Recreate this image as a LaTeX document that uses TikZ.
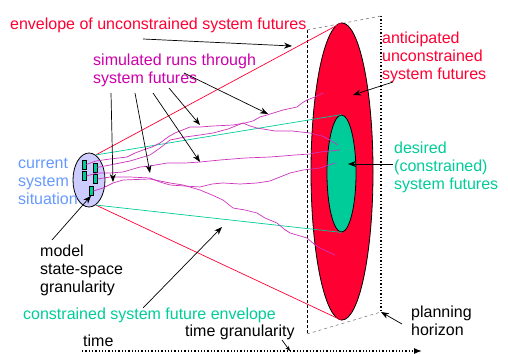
\documentclass[tikz,border=0pt]{standalone}
\usepackage{fontspec}
\setmainfont{Liberation Sans}
\usetikzlibrary{shapes.geometric,arrows.meta}
\usepackage{xcolor}
\definecolor{futurered}{RGB}{255,0,51}
\definecolor{desiredgreen}{RGB}{0,204,153}
\definecolor{runmagenta}{RGB}{204,51,187}
\definecolor{labelmagenta}{RGB}{204,0,170}
\definecolor{situblue}{RGB}{102,153,255}
\definecolor{statelavender}{RGB}{204,204,255}

\begin{document}
\begin{tikzpicture}[
    x=1pt, y=-1pt,
    txt/.style={anchor=base west, inner sep=0pt, align=left,
                font=\fontsize{16}{17.6}\selectfont},
    futureblob/.style={ellipse, inner sep=0pt, draw=black, line width=0.8pt},
    staterect/.style={rectangle, inner sep=0pt, draw=black, fill=desiredgreen,
                      minimum width=4pt, minimum height=9pt, line width=0.6pt},
    run/.style={draw=runmagenta, line width=0.7pt, line join=round},
    pointer/.style={-{Stealth[length=8pt,width=6pt]}, line width=0.7pt}
]
\useasboundingbox (0,0) rectangle (508,353);

% Planning horizon plane
\coordinate (pTL) at (307,30);
\coordinate (pBL) at (307,334);
\coordinate (pTR) at (381,16);
\coordinate (pBR) at (381,312);
\draw[dashed, line width=0.6pt, dash pattern=on 3pt off 2pt] (pTL) -- (pBL);
\draw[dotted, line width=1.3pt] (pTR) -- (pBR);
\draw[dashed, gray, line width=0.6pt] (pTL) -- (pTR);
\draw[dashed, gray, line width=0.6pt] (pBL) -- (pBR);

% Future sets
\node[futureblob, fill=futurered, minimum width=62pt, minimum height=297pt] (uncon) at (342,171.5) {};
\node[futureblob, fill=desiredgreen, minimum width=29pt, minimum height=117pt] (desire) at (341.5,173.5) {};

% Current situation
\node[futureblob, fill=statelavender, minimum width=32pt, minimum height=54pt] (current) at (89,180) {};
\node[staterect] (r1) at (84,164.5) {};
\node[staterect] (r2) at (84,176) {};
\node[staterect] (r3) at (95,167.5) {};
\node[staterect] (r4) at (95,179) {};
\node[staterect] (r5) at (91,191) {};

% Envelopes
\draw[futurered, line width=0.7pt] (current.75) -- (uncon.north);
\draw[futurered, line width=0.7pt] (current.-75) -- (uncon.south);
\draw[desiredgreen, line width=0.7pt] (current.75) -- (desire.north);
\draw[desiredgreen, line width=0.7pt] (current.-75) -- (desire.south);

% Simulated runs
\draw[run] (r1.east) -- (96,161) -- (110,159) -- (127,157) -- (135,153) -- (143,150) -- (152,147)
    -- (160,143) -- (168,137) -- (175,133) -- (190,127) -- (200,127) -- (213,126) -- (233,125)
    -- (245,123) -- (253,121) -- (260,117) -- (267,115) -- (283,110) -- (297,107) -- (302,103)
    -- (307,100) -- (315,97) -- (323,93);
\draw[run] (r3.east) -- (110,165) -- (130,161) -- (140,158) -- (150,155) -- (160,148) -- (170,140)
    -- (185,137) -- (200,135) -- (213,133) -- (228,129) -- (243,123) -- (250,126) -- (257,128)
    -- (275,131) -- (292,131) -- (310,133) -- (322,136) -- (330,140) -- (338,145);
\draw[run] (r2.east) -- (97,173) -- (110,173) -- (123,172) -- (140,167) -- (150,166) -- (167,163)
    -- (185,163) -- (200,162) -- (220,160) -- (245,158) -- (270,157) -- (283,156) -- (295,155)
    -- (310,154) -- (320,152) -- (330,151) -- (340,150);
\draw[run] (r4.east) -- (110,177) -- (130,177) -- (150,178) -- (160,182) -- (170,185) -- (185,186)
    -- (200,187) -- (212,184) -- (223,183) -- (240,184) -- (257,183) -- (270,181) -- (280,177)
    -- (290,173) -- (303,170) -- (320,168) -- (335,163);
\draw[run] (r5.east) -- (103,188) -- (113,183) -- (123,180) -- (150,179) -- (170,183) -- (183,185)
    -- (200,190) -- (212,195) -- (223,200) -- (233,208) -- (245,210) -- (257,213) -- (265,218)
    -- (277,223) -- (284,229) -- (290,233) -- (307,238) -- (314,244) -- (320,248) -- (335,255);

% Labels (placed at the baseline of their last line)
\node[txt, text=futurered] (envUncon) at (10,30) {envelope of unconstrained system futures};
\node[txt, text=labelmagenta] (simRuns) at (93,83) {simulated runs through\\system futures};
\node[txt, text=situblue] (situation) at (18,204) {current\\system\\situation};
\node[txt] (granState) at (40,292) {model\\state-space\\granularity};
\node[txt, text=desiredgreen] (envCon) at (23,319) {constrained system future envelope};
\node[txt] (granTime) at (185,336) {time granularity};
\node[txt] (timeLbl) at (83,346) {time};
\node[txt, text=futurered] (anticip) at (382,79) {anticipated\\unconstrained\\system futures};
\node[txt, text=desiredgreen] (desired) at (394,189) {desired\\(constrained)\\system futures};
\node[txt] (horizon) at (411,335) {planning\\horizon};

% Arrow ends
\coordinate (envUnconA) at (143,39);
\coordinate (envUnconB) at (292,46);
\coordinate (simA1) at (111,93);  \coordinate (simB1) at (113,182);
\coordinate (simA2) at (135,93);  \coordinate (simB2) at (150,173);
\coordinate (simA3) at (153,93);  \coordinate (simB3) at (200,162);
\coordinate (simA4) at (169,88);  \coordinate (simB4) at (200,125);
\coordinate (simA5) at (184,73);  \coordinate (simB5) at (268,114);
\coordinate (anticipA) at (393,82);
\coordinate (anticipB) at (353,95);
\coordinate (desiredA) at (393,164);
\coordinate (desiredB) at (348,164);
\coordinate (granStateA) at (52,240);
\coordinate (envConA) at (143,308);
\coordinate (envConB) at (222,227);
\coordinate (granTimeA) at (282,340);
\coordinate (granTimeB) at (290,351);
\coordinate (horizonA) at (402,324);
\coordinate (timeStart) at (82,351);
\coordinate (timeEnd) at (422,351);

% Arrows
\draw[pointer] (envUnconA) -- (envUnconB);
\foreach \i in {1,...,5}
    \draw[pointer] (simA\i) -- (simB\i);
\draw[pointer] (anticipA) -- (anticipB);
\draw[pointer] (desiredA) -- (desiredB);
\draw[pointer] (granStateA) -- (r5.south);
\draw[pointer] (envConA) -- (envConB);
\draw[pointer, -{Stealth[length=5pt,width=4pt]}] (granTimeA) -- (granTimeB);
\draw[pointer] (horizonA) -- (pBR);

% Time axis
\draw[dotted, line width=1.3pt, -{Latex[length=8pt,width=6pt]}] (timeStart) -- (timeEnd);

\end{tikzpicture}
\end{document}
